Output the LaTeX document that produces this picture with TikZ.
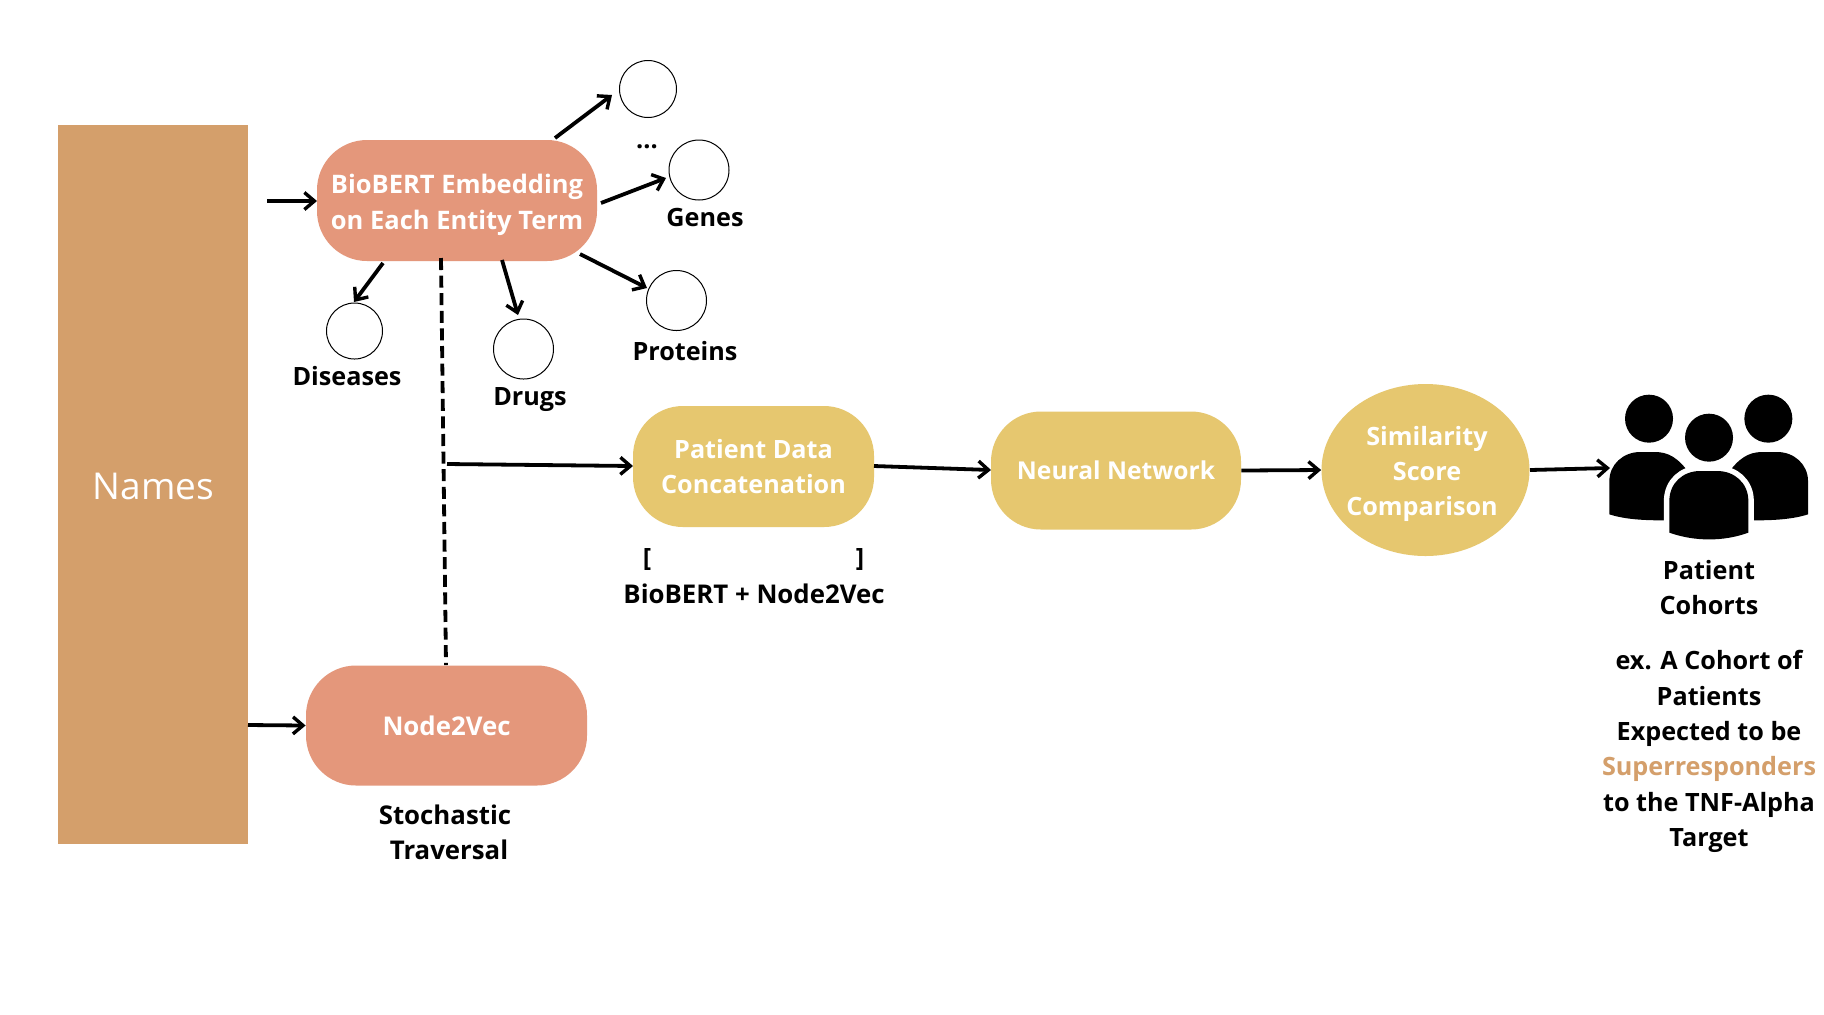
\documentclass[tikz,border=0pt]{standalone}
\usepackage{fontspec}
\setmainfont{Open Sans}
\usetikzlibrary{arrows.meta,shapes.geometric}
\definecolor{tan}{HTML}{D49F6B}
\definecolor{salmon}{HTML}{E4977B}
\definecolor{sand}{HTML}{E6C76F}
\tikzset{
  x=0.5pt,y=-0.5pt,
  pill/.style={draw=none,rounded corners=#1,inner sep=0pt,text=white,align=center,font=\fontsize{12.9}{17.7}\selectfont\bfseries},
  entity/.style={circle,draw=black,line width=0.5pt,minimum size=#1,inner sep=0pt},
  arr/.style={draw=black,line width=1.9pt,-{Straight Barb[length=5pt,width=8.5pt,line width=1.7pt]}},
  lbl/.style={align=center,inner sep=0pt,text=black,font=\fontsize{12.6}{17.7}\selectfont\bfseries},
}
\begin{document}
\begin{tikzpicture}
\useasboundingbox (0,0) rectangle (1824,1014);
\fill[white] (0,0) rectangle (1824,1014);
% main boxes
\node[fill=tan,minimum width=95pt,minimum height=359.5pt,inner sep=0pt] (names) at (153,484.5) {};
\node[text=white,inner sep=0pt,font=\fontsize{18.5}{22}\selectfont] (namesT) at (153.5,486) {Names};
\node[pill=25pt,fill=salmon,minimum width=140pt,minimum height=60.5pt] (bio) at (457,200.5) {};
\node[text=white,inner sep=0pt,align=center,font=\fontsize{12.75}{17.7}\selectfont\bfseries] (bioT) at (457,205) {BioBERT Embedding\\on Each Entity Term};
\node[pill=25pt,fill=salmon,minimum width=140.5pt,minimum height=60pt] (n2v) at (446.5,725.5) {Node2Vec};
\node[pill=25pt,fill=sand,minimum width=120.5pt,minimum height=60.5pt,font=\fontsize{12.6}{17.7}\selectfont\bfseries] (pat) at (753.5,466.5) {Patient Data\\Concatenation};
\node[pill=25pt,fill=sand,minimum width=125pt,minimum height=59pt,font=\fontsize{12.3}{17.7}\selectfont\bfseries] (nn) at (1116,470.5) {Neural Network};
\node[ellipse,fill=sand,minimum width=104pt,minimum height=86pt,inner sep=0pt] (sim) at (1425.5,470) {};
\node[inner sep=0pt,text=white,align=center,font=\fontsize{12.6}{17.7}\selectfont\bfseries] (simT) at (1422,474) {\hspace*{5pt}Similarity\\\hspace*{5pt}Score\\Comparison};
% entity circles
\node[entity=28.5pt] (c1) at (648,89) {};
\node[entity=30pt] (c2) at (699,170) {};
\node[entity=30pt] (c3) at (676.5,300.5) {};
\node[entity=30pt] (c4) at (523.5,349) {};
\node[entity=28pt] (c5) at (354.5,331) {};
% labels
\node[lbl] (ldots) at (647,147) {...};
\node[lbl] (lgenes) at (705,217.5) {Genes};
\node[lbl] (lprot) at (685,351.5) {Proteins};
\node[lbl] (ldrugs) at (530,400) {Drugs};
\node[lbl] (ldis) at (347,376.5) {Diseases};
\node[lbl] (lbo) at (647,559) {[};
\node[lbl] (lbc) at (860,559) {]};
\node[lbl,font=\fontsize{12.9}{17.7}\selectfont\bfseries] (lbn) at (754,594) {BioBERT + Node2Vec};
\node[lbl,font=\fontsize{12.9}{17.7}\selectfont\bfseries] (lst) at (445,832.5) {Stochastic\\\hspace*{4pt}Traversal};
\node[lbl] (lpc) at (1709,587.5) {Patient\\Cohorts};
\node[lbl] (lex) at (1709,751.5) {ex. A Cohort of\\Patients\\Expected to be\\\textcolor{tan}{Superresponders}\\to the TNF-Alpha\\Target};
% free ends of connectors
\coordinate (aIn) at (267,201);
\coordinate (bioIn) at (317,201);
\coordinate (aT1) at (555,138);
\coordinate (aT2) at (612,95);
\coordinate (aG1) at (601,203);
\coordinate (aG2) at (666,178);
\coordinate (aP1) at (580,254);
\coordinate (aP2) at (647,288);
\coordinate (aD1) at (502,260);
\coordinate (aD2) at (518,315);
\coordinate (aS1) at (383,263);
\coordinate (aS2) at (354,302);
\coordinate (dTop) at (441,258);
\coordinate (dBot) at (446,665);
\coordinate (jn) at (447,464);
\coordinate (patIn) at (633,466);
\coordinate (patOut) at (874,466);
\coordinate (nnIn) at (991,470);
\coordinate (simOut) at (1530,470);
\coordinate (pplIn) at (1610,468);
\coordinate (namesOut) at (248,725);
% connectors
\draw[arr] (aIn) -- (bioIn);
\draw[arr] (aT1) -- (aT2);
\draw[arr] (aG1) -- (aG2);
\draw[arr] (aP1) -- (aP2);
\draw[arr] (aD1) -- (aD2);
\draw[arr] (aS1) -- (aS2);
\draw[line width=1.9pt,dash pattern=on 6pt off 2.8pt] (dTop) -- (dBot);
\draw[arr] (jn) -- (patIn);
\draw[arr] (patOut) -- (nnIn);
\draw[arr] (nn.east) -- (sim.west);
\draw[arr] (simOut) -- (pplIn);
\draw[arr] (namesOut) -- (n2v.west);
% people icon
\begin{scope}[shift={(1580,371)},x=0.16667pt,y=-0.16667pt]
\fill (207,143) circle[radius=12pt];
\fill (565,143) circle[radius=12pt];
\fill (387,200) circle[radius=12pt];
\fill (88,430) -- (88,330) .. controls (88,280) and (130,243) .. (180,243) -- (225,243) .. controls (265,243) and (295,260) .. (330,310) -- (330,448) -- (250,448) .. controls (190,448) and (135,445) .. (88,430) -- cycle;
\fill (684,430) -- (684,330) .. controls (684,280) and (642,243) .. (592,243) -- (547,243) .. controls (507,243) and (477,260) .. (442,310) -- (442,448) -- (522,448) .. controls (582,448) and (637,445) .. (684,430) -- cycle;
\draw[white,line width=5.5pt] (268,485) -- (268,390) .. controls (268,335) and (310,300) .. (360,300) -- (412,300) .. controls (462,300) and (505,335) .. (505,390) -- (505,485);
\fill (268,485) -- (268,390) .. controls (268,335) and (310,300) .. (360,300) -- (412,300) .. controls (462,300) and (505,335) .. (505,390) -- (505,485) .. controls (430,512) and (345,512) .. (268,485) -- cycle;
\end{scope}
\end{tikzpicture}
\end{document}
